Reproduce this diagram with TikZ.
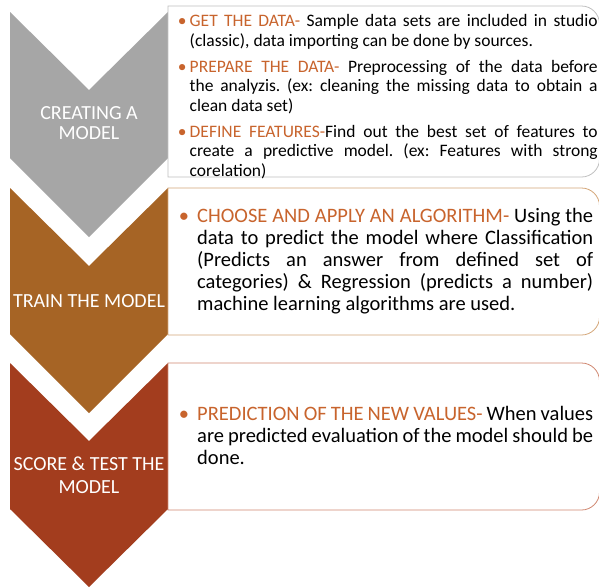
\documentclass[tikz,border=0pt]{standalone}
\usepackage{fontspec}
\setmainfont{Carlito}
\usepackage{xcolor}
\usepackage{tikz}

\definecolor{StepGray}{RGB}{166,166,166}
\definecolor{StepBrown}{RGB}{166,100,37}
\definecolor{StepRed}{RGB}{163,61,30}
\definecolor{BoxGray}{RGB}{192,192,192}
\definecolor{BoxBrown}{RGB}{212,166,120}
\definecolor{BoxRed}{RGB}{208,135,112}
\definecolor{HeadOrange}{RGB}{200,100,45}

\frenchspacing
\newcommand{\stepitem}[3]{\noindent\llap{\textcolor{HeadOrange}{\textbullet}\hspace{#1}}\textcolor{HeadOrange}{#2}#3}

\tikzset{
    steplabel/.style = {white, align = center, inner sep = 0pt},
    steptext/.style = {anchor = base west, inner sep = 0pt, align = justify}
}

\begin{document}
\begin{tikzpicture}[x = 1pt, y = -1pt]
    \useasboundingbox [fill = white] (0, 0) rectangle (599, 587);
    % chevrons
    \fill [StepGray] (10, 12) -- (89, 90) -- (168, 12) -- (168, 158) -- (89, 237) -- (10, 158) -- cycle;
    \fill [StepBrown] (10, 188) -- (89, 266) -- (168, 188) -- (168, 334) -- (89, 413) -- (10, 334) -- cycle;
    \fill [StepRed] (10, 363) -- (89, 441) -- (168, 363) -- (168, 509) -- (89, 587) -- (10, 509) -- cycle;
    % boxes
    \filldraw [fill = white, draw = BoxGray, line width = 0.8pt] (168, 6) [rounded corners = 18pt] -- (599.5, 6) -- (599.5, 177) [sharp corners] -- (168, 177) -- cycle;
    \filldraw [fill = white, draw = BoxBrown, line width = 0.8pt] (168, 188) [rounded corners = 18pt] -- (599.5, 188) -- (599.5, 335) [sharp corners] -- (168, 335) -- cycle;
    \filldraw [fill = white, draw = BoxRed, line width = 0.8pt] (168, 363) [rounded corners = 18pt] -- (599.5, 363) -- (599.5, 510) [sharp corners] -- (168, 510) -- cycle;
    % labels
    \node [steplabel, font = \fontsize{20}{20.5}\selectfont] (create) at (89, 123) {CREATING A\\MODEL};
    \node [steplabel, font = \fontsize{20}{20}\selectfont] (train) at (89, 301) {TRAIN THE MODEL};
    \node [steplabel, font = \fontsize{20}{23}\selectfont] (score) at (89, 475.5) {SCORE \& TEST THE\\MODEL};
    % texts
    \node [steptext, text width = 408pt, font = \fontsize{17.5}{19.5}\selectfont] (createtext) at (189.5, 26.7) {%
        \stepitem{3pt}{GET THE DATA-}{ Sample data sets are included in studio\linebreak (classic), data importing can be done by sources.}\par\vspace{6.5pt}
        \stepitem{3pt}{PREPARE THE DATA-}{ Preprocessing of the data before\linebreak the analyzis. (ex: cleaning the missing data to obtain a\linebreak clean data set)}\par\vspace{6.5pt}
        \stepitem{3pt}{DEFINE FEATURES-}{Find out the best set of features to\linebreak create a predictive model. (ex: Features with strong\linebreak corelation)}};
    \node [steptext, text width = 396pt, font = \fontsize{20.5}{22}\selectfont] (traintext) at (197, 222.5) {%
        \stepitem{8pt}{CHOOSE AND APPLY AN ALGORITHM-}{ Using the\linebreak data to predict the model where Classification\linebreak (Predicts an answer from defined set of\linebreak categories) \& Regression (predicts a number)\linebreak machine learning algorithms are used.}};
    \node [steptext, text width = 396pt, font = \fontsize{20.5}{22}\selectfont] (scoretext) at (197, 420) {%
        \stepitem{8pt}{PREDICTION OF THE NEW VALUES-}{ When values\linebreak are predicted evaluation of the model should be\linebreak done.}};
\end{tikzpicture}
\end{document}
